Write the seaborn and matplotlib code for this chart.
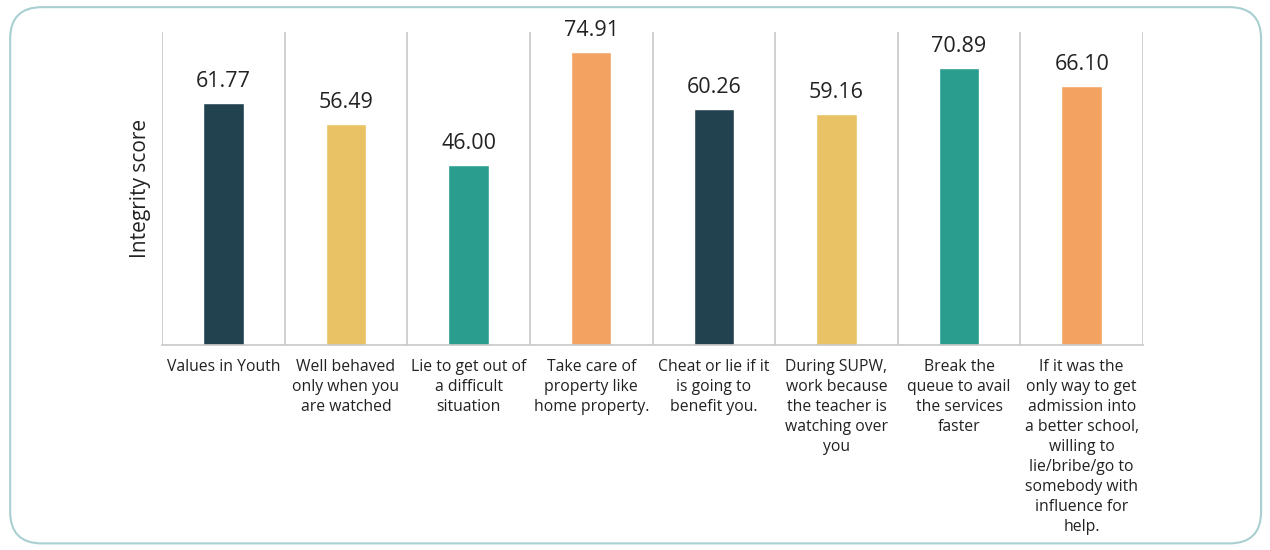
import numpy as np
import pandas as pd
import matplotlib.pyplot as plt
import seaborn as sns
from matplotlib.patches import FancyBboxPatch

categories = ["Values in Youth",
              "Well behaved\nonly when you\nare watched",
              "Lie to get out of\na difficult\nsituation",
              "Take care of\nproperty like\nhome property.",
              "Cheat or lie if it\nis going to\nbenefit you.",
              "During SUPW,\nwork because\nthe teacher is\nwatching over\nyou",
              "Break the\nqueue to avail\nthe services\nfaster",
              "If it was the\nonly way to get\nadmission into\na better school,\nwilling to\nlie/bribe/go to\nsomebody with\ninfluence for\nhelp."]
scores = [61.77, 56.49, 46.00, 74.91, 60.26, 59.16, 70.89, 66.10]
colors = ["#23424f", "#e8c264", "#2a9d8f", "#f4a261",
          "#23424f", "#e8c264", "#2a9d8f", "#f4a261"]

df = pd.DataFrame({"item": categories, "score": scores})

sns.set_theme(style="white")
plt.rcParams['font.family'] = ['Open Sans', 'DejaVu Sans']

fig = plt.figure(figsize=(12.7, 5.5), dpi=100)
ax = fig.add_axes([0.1276, 0.3727, 0.7724, 0.5691])

sns.barplot(data=df, x="item", y="score", hue="item", palette=colors,
            width=0.33, legend=False, ax=ax, saturation=1)

for i, v in enumerate(scores):
    ax.text(i, v + 2.8, f"{v:.2f}", ha="center", va="bottom",
            fontsize=15.5, color="#222222")

n = len(categories)
ax.set_xlim(-0.5, n - 0.5)
ax.set_ylim(0, 80)
ax.set_xticks(np.arange(-0.5, n), minor=True)
ax.grid(axis="x", which="minor", color="#c8c8c8", linewidth=1.2)
ax.tick_params(axis="x", which="both", length=0, pad=10)
ax.set_xticklabels(categories, fontsize=11.3, color="#222222", linespacing=1.33,
                   va="top")
ax.set_yticks([])
ax.set_xlabel("")
ax.set_ylabel("Integrity score", fontsize=15, color="#222222", labelpad=8)
for s in ["top", "right", "left"]:
    ax.spines[s].set_visible(False)
ax.spines["bottom"].set_color("#c8c8c8")
ax.spines["bottom"].set_linewidth(1.2)

frame = FancyBboxPatch((0.008, 0.012), 0.985, 0.975,
                       boxstyle="round,pad=0,rounding_size=0.025",
                       transform=fig.transFigure, fill=False,
                       edgecolor="#a9cfd1", linewidth=1.5,
                       mutation_aspect=1270 / 550)
fig.patches.append(frame)

fig.savefig("out.png", dpi=100)
